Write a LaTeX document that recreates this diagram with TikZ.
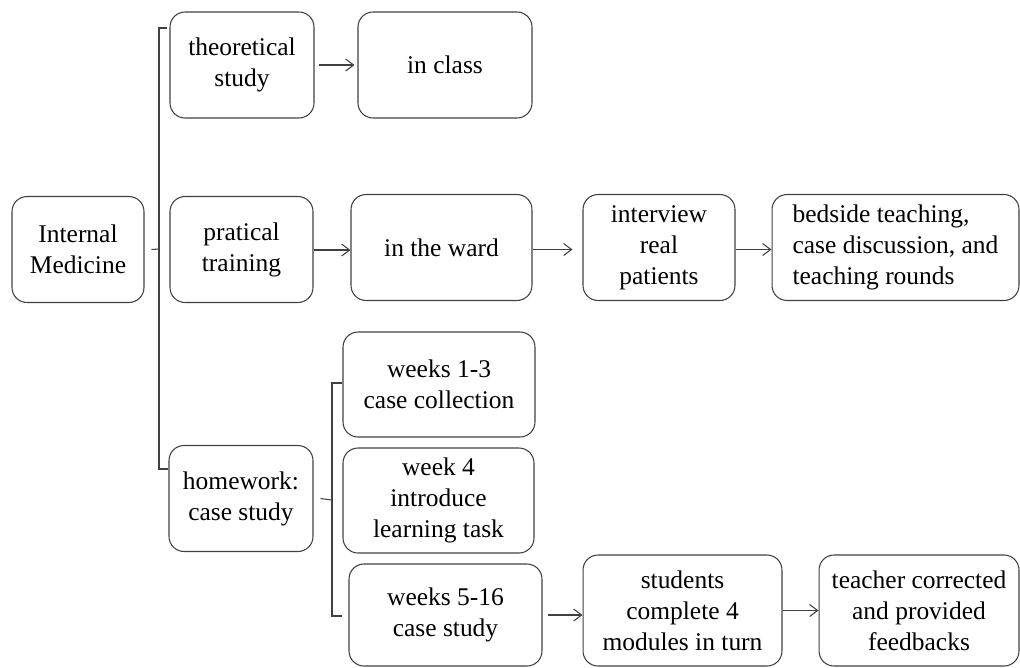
\documentclass[tikz,border=0pt]{standalone}
\usepackage{fontspec}
\setmainfont{Liberation Serif}
\usetikzlibrary{arrows.meta}

\begin{document}
\begin{tikzpicture}[x=0.02cm, y=-0.02cm, line width=0.6pt,
			box/.style = {draw=black!75, rounded corners=0.3cm, align=center, inner sep=0pt, minimum height=2.12cm, font=\fontsize{14.5}{17.6}\selectfont},
			arr/.style={draw=black!75, -{Straight Barb[length=1.6mm,width=2.4mm]}},
			brack/.style={draw=black!75}] 
			
			\useasboundingbox (0,0) rectangle (1020,667);
			
			\node[box, minimum width=2.64cm] (med) at (78,249.5) {Internal\\Medicine};
			
			\node[box, minimum width=2.88cm] (theo) at (242,65) {theoretical\\study};
			\node[box, minimum width=3.48cm] (class) at (445,65) {in class};
			
			\node[box, minimum width=2.86cm] (prac) at (241.5,249.5) {pratical\\training};
			\node[box, minimum width=3.62cm] (ward) at (441.5,247.5) {in the ward};
			\node[box, minimum width=3.04cm] (interv) at (659,247.5) {interview\\real\\patients};
			\node[box, minimum width=4.94cm, align=left] (bed) at (895.5,247.5) {bedside teaching,\\case discussion, and\\teaching rounds};
			
			\node[box, minimum width=2.88cm] (hw) at (241,498.5) {homework:\\case study};
			
			\node[box, minimum width=3.84cm, minimum height=2.1cm] (wka) at (439,384.5) {weeks 1-3\\case collection};
			\node[box, minimum width=3.82cm, minimum height=2.1cm] (wkb) at (438.5,500.5) {week 4\\introduce\\learning task};
			\node[box, minimum width=3.86cm, minimum height=2.04cm] (wkc) at (445.5,615) {weeks 5-16\\case study};
			\node[box, minimum width=3.98cm, minimum height=2.22cm] (stud) at (682.5,610.5) {students\\complete 4\\modules in turn};
			\node[box, minimum width=4cm, minimum height=2.22cm] (teach) at (919,610.5) {teacher corrected\\and provided\\feedbacks};
			
			% first bracket
			\coordinate (b1) at (159,249);
			\coordinate (t1) at (167,28);
			\coordinate (u1) at (168,469);
			\draw[brack] ([xshift=0.14cm]med.east) -- (b1);
			\draw[brack] (t1) -| (b1) |- (u1);
			
			% second bracket
			\coordinate (b2) at (332,500);
			\coordinate (t2) at (342,383);
			\coordinate (u2) at (342,616);
			\draw[brack] ([xshift=0.14cm]hw.east) -- (b2);
			\draw[brack] (t2) -| (b2) |- (u2);
			
			\draw[arr, shorten <=0.08cm, shorten >=0.06cm] (theo.east) -- (theo.east -| class.west);
			\draw[arr] ([yshift=-0.01cm]prac.east) -- ([yshift=-0.01cm]prac.east -| ward.west);
			\draw[arr, shorten >=0.2cm] ([yshift=-0.04cm]ward.east) -- ([yshift=-0.04cm]ward.east -| interv.west);
			\draw[arr] ([yshift=-0.04cm]interv.east) -- ([yshift=-0.04cm]interv.east -| bed.west);
			\draw[arr, shorten <=0.1cm] (wkc.east) -- (wkc.east -| stud.west);
			\draw[arr] (stud.east) -- (stud.east -| teach.west);
			
		\end{tikzpicture}
\end{document}
